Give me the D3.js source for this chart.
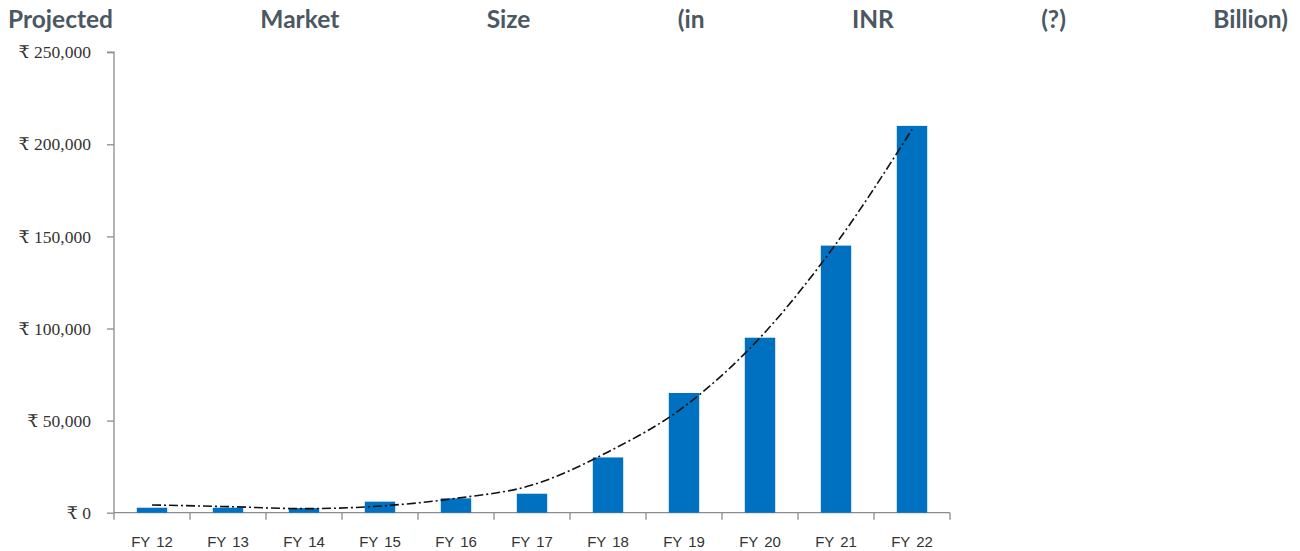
<!DOCTYPE html>
<html>
  <head>
    <meta charset="utf-8">
    <title>Projected Market Size</title>
    <script src="https://d3js.org/d3.v7.min.js"></script>
    <style>
      body { margin: 0; background: #fff; }
    </style>
  </head>
  <body>
    <script type="text/javascript">
      var years = ['FY 12', 'FY 13', 'FY 14', 'FY 15', 'FY 16', 'FY 17', 'FY 18', 'FY 19', 'FY 20', 'FY 21', 'FY 22'];
      var marketSize = [2700, 2700, 2500, 6000, 7800, 10300, 30000, 65000, 95000, 145000, 210000];
      var trendValues = [4200, 3300, 2200, 3600, 7800, 15000, 33000, 57500, 95000, 146000, 208000];
      var yTicks = [0, 50000, 100000, 150000, 200000, 250000];
      var titleWords = ['Projected', 'Market', 'Size', '(in', 'INR', '(?)', 'Billion)'];

      var width = 1300, height = 551;
      var svg = d3.select('body')
                  .append('svg')
                  .attr('width', width)
                  .attr('height', height);

      // title, justified across the page
      var title = svg.append('g');
      var words = title.selectAll('text')
                       .data(titleWords)
                       .enter()
                         .append('text')
                         .attr('y', 28)
                         .attr('font-family', 'Lato, sans-serif')
                         .attr('font-weight', 'bold')
                         .attr('font-size', 24.5)
                         .attr('fill', '#4b5763')
                         .text(function (d) { return d; });
      var widths = [];
      words.each(function () { widths.push(this.getComputedTextLength()); });
      var left = 8, right = 1288;
      var gap = (right - left - d3.sum(widths)) / (titleWords.length - 1);
      var pos = left;
      words.attr('x', function (d, i) {
        var x = pos;
        pos += widths[i] + gap;
        return x;
      });

      var x0 = 114, x1 = 950, y0 = 512.7, y1 = 52.2;

      var x = d3.scaleBand()
                .domain(years)
                .range([x0, x1])
                .paddingInner(0.6)
                .paddingOuter(0.3);
      var y = d3.scaleLinear()
                .domain([0, 250000])
                .range([y0, y1]);

      var fmt = d3.format(',');
      var yAxis = d3.axisLeft(y)
                    .tickValues(yTicks)
                    .tickSize(7)
                    .tickPadding(16)
                    .tickFormat(function (d) { return '₹ ' + fmt(d); });
      var gy = svg.append('g')
                  .attr('transform', 'translate(' + x0 + ',0)')
                  .call(yAxis);
      gy.selectAll('path, line').attr('stroke', '#8c8c8c').attr('stroke-width', 1.3);
      gy.selectAll('text')
        .attr('font-family', '"Liberation Serif", "DejaVu Serif", serif')
        .attr('font-size', 17.5)
        .attr('fill', '#333');
      gy.select('.domain').attr('d', 'M-7,' + y1 + 'H0V' + y0);

      // x axis with boundary ticks between categories
      var gx = svg.append('g');
      gx.append('line')
        .attr('x1', x0).attr('x2', x1)
        .attr('y1', y0).attr('y2', y0)
        .attr('stroke', '#8c8c8c').attr('stroke-width', 1.3);
      var bounds = d3.range(years.length + 1).map(function (i) { return x0 + i * x.step(); });
      gx.selectAll('.btick')
        .data(bounds)
        .enter()
          .append('line')
          .attr('x1', function (d) { return d; })
          .attr('x2', function (d) { return d; })
          .attr('y1', y0)
          .attr('y2', y0 + 7)
          .attr('stroke', '#8c8c8c').attr('stroke-width', 1.3);
      gx.selectAll('.xlab')
        .data(years)
        .enter()
          .append('text')
          .attr('x', function (d) { return x(d) + x.bandwidth() / 2; })
          .attr('y', y0 + 34)
          .attr('text-anchor', 'middle')
          .attr('font-family', '"Liberation Sans", Arial, sans-serif')
          .attr('font-size', 15)
          .attr('fill', '#333')
          .attr('word-spacing', 2)
          .text(function (d) { return d; });

      // bars
      svg.selectAll('.bar')
         .data(marketSize)
         .enter()
           .append('rect')
           .attr('x', function (d, i) { return x(years[i]); })
           .attr('y', function (d) { return y(d); })
           .attr('width', x.bandwidth())
           .attr('height', function (d) { return y0 - y(d); })
           .attr('fill', '#0070c0');

      // polynomial trend line, dash-dot
      var line = d3.line()
                   .x(function (d, i) { return x(years[i]) + x.bandwidth() / 2; })
                   .y(function (d) { return y(d); })
                   .curve(d3.curveMonotoneX);
      svg.append('path')
         .datum(trendValues)
         .attr('d', line)
         .attr('fill', 'none')
         .attr('stroke', '#111')
         .attr('stroke-width', 1.6)
         .attr('stroke-dasharray', '9,3,2,3');
    </script>
  </body>
</html>
